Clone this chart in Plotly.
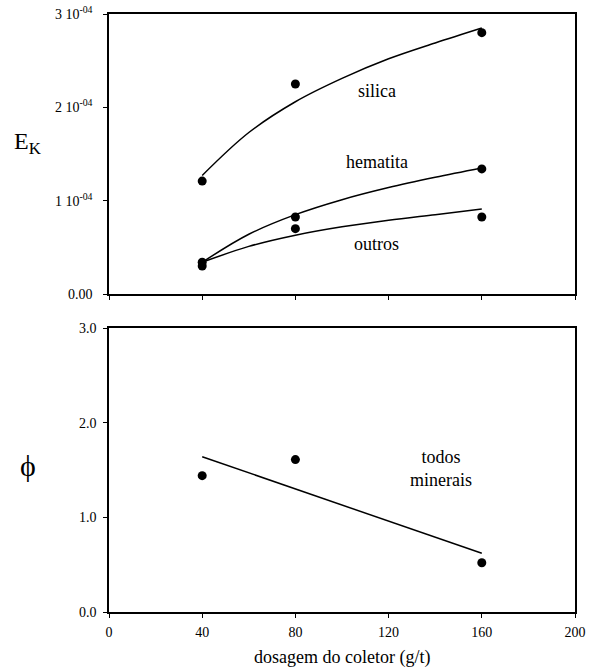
import plotly.graph_objects as go

# ---- data ----
dose_pts = [40, 80, 160]
silica_pts = [1.21e-4, 2.25e-4, 2.80e-4]
hematita_pts = [0.34e-4, 0.825e-4, 1.34e-4]
outros_pts = [0.30e-4, 0.70e-4, 0.825e-4]

dose_curve = [40, 60, 80, 100, 120, 140, 160]
silica_curve = [1.27e-4, 1.73e-4, 2.06e-4, 2.31e-4, 2.52e-4, 2.69e-4, 2.85e-4]
hematita_curve = [0.34e-4, 0.64e-4, 0.85e-4, 1.01e-4, 1.14e-4, 1.25e-4, 1.35e-4]
outros_curve = [0.34e-4, 0.51e-4, 0.63e-4, 0.72e-4, 0.79e-4, 0.85e-4, 0.91e-4]

phi_pts = [1.44, 1.61, 0.52]
phi_line_x = [40, 160]
phi_line_y = [1.64, 0.62]

x_ticks = [0, 40, 80, 120, 160, 200]
ek_ticks = [0, 1e-4, 2e-4, 3e-4]
ek_ticktext = ["0.00", "1 10<sup>-04</sup>", "2 10<sup>-04</sup>", "3 10<sup>-04</sup>"]
phi_ticks = [0, 1, 2, 3]
phi_ticktext = ["0.0", "1.0", "2.0", "3.0"]

W, H = 598, 671
SERIF = "Liberation Serif"

fig = go.Figure()

line_style = dict(color="black", width=1.5)
marker_style = dict(color="black", size=9)

for cy in [silica_curve, hematita_curve, outros_curve]:
    fig.add_trace(go.Scatter(x=dose_curve, y=cy, mode="lines", line_shape="spline",
                             line=line_style, xaxis="x", yaxis="y", showlegend=False))
for py in [silica_pts, hematita_pts, outros_pts]:
    fig.add_trace(go.Scatter(x=dose_pts, y=py, mode="markers", marker=marker_style,
                             xaxis="x", yaxis="y", showlegend=False))

fig.add_trace(go.Scatter(x=phi_line_x, y=phi_line_y, mode="lines", line=line_style,
                         xaxis="x2", yaxis="y2", showlegend=False))
fig.add_trace(go.Scatter(x=dose_pts, y=phi_pts, mode="markers", marker=marker_style,
                         xaxis="x2", yaxis="y2", showlegend=False))

xd = [109 / W, 575 / W]
top_dom = [(H - 294) / H, (H - 14) / H]
bot_dom = [(H - 612) / H, (H - 328) / H]

axis_common = dict(showline=True, linecolor="black", linewidth=1.5, mirror=True,
                   showgrid=False, zeroline=False, ticks="outside", ticklen=4,
                   tickcolor="black", tickwidth=1.2, automargin=False,
                   tickfont=dict(family=SERIF, size=14, color="black"))

fig.update_layout(
    width=W, height=H, autosize=False,
    margin=dict(l=0, r=0, t=0, b=0, pad=0, autoexpand=False),
    plot_bgcolor="white", paper_bgcolor="white", showlegend=False,
    font=dict(family=SERIF, color="black"),
    xaxis=dict(domain=xd, range=[0, 200], tickvals=x_ticks, showticklabels=False,
               anchor="y", **axis_common),
    yaxis=dict(domain=top_dom, range=[0, 3e-4], tickvals=ek_ticks, ticktext=ek_ticktext,
               anchor="x", ticklabelstandoff=8, **axis_common),
    xaxis2=dict(domain=xd, range=[0, 200], tickvals=x_ticks, ticktext=[str(v) for v in x_ticks],
                anchor="y2", ticklabelstandoff=2, **axis_common),
    yaxis2=dict(domain=bot_dom, range=[0, 3], tickvals=phi_ticks, ticktext=phi_ticktext,
                anchor="x2", ticklabelstandoff=4, **axis_common),
)

ann_font = dict(family=SERIF, size=18, color="black")
for txt, xv, yv in [("silica", 115, 2.17e-4), ("hematita", 115, 1.41e-4), ("outros", 115, 0.535e-4)]:
    fig.add_annotation(x=xv, y=yv, xref="x", yref="y", text=txt, showarrow=False, font=ann_font,
                       xanchor="center", yanchor="middle")
fig.add_annotation(x=142.4, y=1.52, xref="x2", yref="y2", text="todos<br>minerais", showarrow=False,
                   font=ann_font, align="center", xanchor="center", yanchor="middle")

fig.add_annotation(x=27 / W, y=(H - 143) / H, xref="paper", yref="paper", text="E<sub>K</sub>",
                   showarrow=False, font=dict(family=SERIF, size=24, color="black"),
                   xanchor="center", yanchor="middle")
fig.add_annotation(x=28 / W, y=(H - 465) / H, xref="paper", yref="paper", text="ϕ",
                   showarrow=False, font=dict(family=SERIF, size=30, color="black"),
                   xanchor="center", yanchor="middle")
fig.add_annotation(x=342 / W, y=(H - 657) / H, xref="paper", yref="paper",
                   text="dosagem do coletor (g/t)", showarrow=False,
                   font=dict(family=SERIF, size=18, color="black"),
                   xanchor="center", yanchor="middle")

fig.write_html("out.html")
